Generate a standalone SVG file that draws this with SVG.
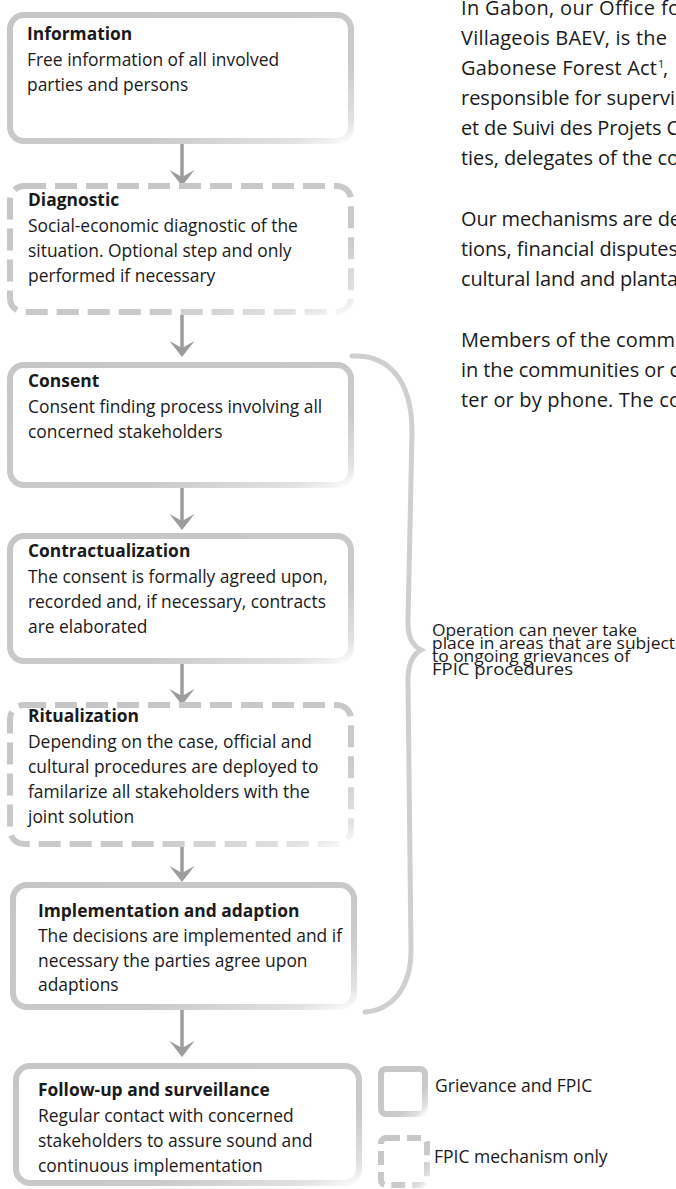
<svg xmlns="http://www.w3.org/2000/svg" width="676" height="1189" viewBox="0 0 676 1189">
<defs>
<linearGradient id="edge" x1="0" y1="0" x2="1" y2="1">
<stop offset="0" stop-color="#c6c6c6"/>
<stop offset="0.7" stop-color="#cacaca"/>
<stop offset="0.92" stop-color="#e2e2e2"/>
<stop offset="1" stop-color="#fbfbfb"/>
</linearGradient>
<style>
.box{fill:#fff;stroke:url(#edge);stroke-width:6}
.dash{stroke-dasharray:22 9}
.t{font-family:"Open Sans","Liberation Sans",sans-serif;font-size:17.4px;fill:#1a1a1a}
.b{font-weight:bold}
.p{font-family:"Open Sans","Liberation Sans",sans-serif;font-size:20px;fill:#1a1a1a}
.s{font-family:"Open Sans","Liberation Sans",sans-serif;font-size:15.5px;fill:#1a1a1a}
.lg{font-family:"Open Sans","Liberation Sans",sans-serif;font-size:17.5px;fill:#1a1a1a}
.ln{stroke:#9c9c9c;stroke-width:3.5;fill:none}
.hd{fill:#9c9c9c}
.brace{fill:none;stroke:#cfcfcf;stroke-width:5;stroke-linecap:round}
</style>
</defs>

<g id="intro-text">
<text class="p" x="461" y="15" textLength="219">In Gabon, our Office fo</text>
<text class="p" x="461" y="45" textLength="206">Villageois BAEV, is the</text>
<text class="p" x="461" y="75" textLength="196">Gabonese Forest Act</text>
<text class="p" x="658" y="68" style="font-size:11px">1</text>
<text class="p" x="663" y="75">,</text>
<text class="p" x="461" y="105" textLength="214">responsible for supervi</text>
<text class="p" x="461" y="135" textLength="218">et de Suivi des Projets C</text>
<text class="p" x="461" y="165" textLength="218">ties, delegates of the co</text>
<text class="p" x="461" y="226" textLength="220">Our mechanisms are de</text>
<text class="p" x="461" y="256" textLength="217">tions, financial disputes</text>
<text class="p" x="461" y="286" textLength="217">cultural land and planta</text>
<text class="p" x="461" y="347" textLength="214">Members of the comm</text>
<text class="p" x="461" y="377" textLength="218">in the communities or c</text>
<text class="p" x="461" y="407" textLength="220">ter or by phone. The co</text>
</g>

<g id="connectors">
<line class="ln" x1="182" y1="144" x2="182" y2="178"/>
<polygon class="hd" points="169.5,170 182,186 194.5,170 182,177"/>
<line class="ln" x1="182" y1="315" x2="182" y2="349"/>
<polygon class="hd" points="169.5,341 182,357 194.5,341 182,348"/>
<line class="ln" x1="182" y1="488" x2="182" y2="522"/>
<polygon class="hd" points="169.5,514 182,530 194.5,514 182,521"/>
<line class="ln" x1="182" y1="664" x2="182" y2="697"/>
<polygon class="hd" points="169.5,689 182,705 194.5,689 182,696"/>
<line class="ln" x1="182" y1="847" x2="182" y2="874"/>
<polygon class="hd" points="169.5,866 182,882 194.5,866 182,873"/>
<line class="ln" x1="182" y1="1010" x2="182" y2="1049"/>
<polygon class="hd" points="169.5,1041 182,1057 194.5,1041 182,1048"/>
</g>

<g id="information">
<rect class="box" x="10" y="15" width="341" height="126" rx="14"/>
<text class="t b" x="27" y="40">Information</text>
<text class="t" x="27" y="66">Free information of all involved</text>
<text class="t" x="27" y="91">parties and persons</text>
</g>

<g id="diagnostic">
<rect class="box dash" x="10" y="186" width="341" height="126" rx="14"/>
<text class="t b" x="28" y="206">Diagnostic</text>
<text class="t" x="28" y="232">Social-economic diagnostic of the</text>
<text class="t" x="28" y="257">situation. Optional step and only</text>
<text class="t" x="28" y="282">performed if necessary</text>
</g>

<g id="consent">
<rect class="box" x="10" y="365" width="341" height="120" rx="14"/>
<text class="t b" x="28" y="387">Consent</text>
<text class="t" x="28" y="413">Consent finding process involving all</text>
<text class="t" x="28" y="438">concerned stakeholders</text>
</g>

<g id="contractualization">
<rect class="box" x="10" y="536" width="341" height="125" rx="14"/>
<text class="t b" x="28" y="557">Contractualization</text>
<text class="t" x="28" y="583">The consent is formally agreed upon,</text>
<text class="t" x="28" y="608">recorded and, if necessary, contracts</text>
<text class="t" x="28" y="633">are elaborated</text>
</g>

<g id="ritualization">
<rect class="box dash" x="10" y="705" width="341" height="139" rx="14"/>
<text class="t b" x="28" y="722">Ritualization</text>
<text class="t" x="28" y="748">Depending on the case, official and</text>
<text class="t" x="28" y="773">cultural procedures are deployed to</text>
<text class="t" x="28" y="798">familarize all stakeholders with the</text>
<text class="t" x="28" y="823">joint solution</text>
</g>

<g id="implementation">
<rect class="box" x="13" y="885" width="341" height="122" rx="14"/>
<text class="t b" x="38" y="917">Implementation and adaption</text>
<text class="t" x="38" y="942">The decisions are implemented and if</text>
<text class="t" x="38" y="967">necessary the parties agree upon</text>
<text class="t" x="38" y="991">adaptions</text>
</g>

<g id="followup">
<rect class="box" x="16" y="1066" width="343" height="117" rx="14"/>
<text class="t b" x="38" y="1096">Follow-up and surveillance</text>
<text class="t" x="38" y="1122">Regular contact with concerned</text>
<text class="t" x="38" y="1147">stakeholders to assure sound and</text>
<text class="t" x="38" y="1172">continuous implementation</text>
</g>

<g id="brace">
<path class="brace" d="M352 356 C390 354 412 382 412 432 L408 622 C408 637 412 645 421 650 C412 655 408 664 408 680 L411 950 C411 988 392 1010 365 1012"/>
<text class="s" x="432" y="636" textLength="205" lengthAdjust="spacingAndGlyphs">Operation can never take</text>
<text class="s" x="432" y="649" textLength="243" lengthAdjust="spacingAndGlyphs">place in areas that are subject</text>
<text class="s" x="432" y="662" textLength="198" lengthAdjust="spacingAndGlyphs">to ongoing grievances of</text>
<text class="s" x="432" y="675" textLength="141" lengthAdjust="spacingAndGlyphs">FPIC procedures</text>
</g>

<g id="legend">
<rect class="box" x="381" y="1069" width="44" height="45" rx="5"/>
<text class="lg" x="435" y="1092">Grievance and FPIC</text>
<rect class="box" x="381" y="1138" width="46" height="47" rx="5" style="stroke-dasharray:14 7"/>
<text class="lg" x="434" y="1163">FPIC mechanism only</text>
</g>
</svg>
